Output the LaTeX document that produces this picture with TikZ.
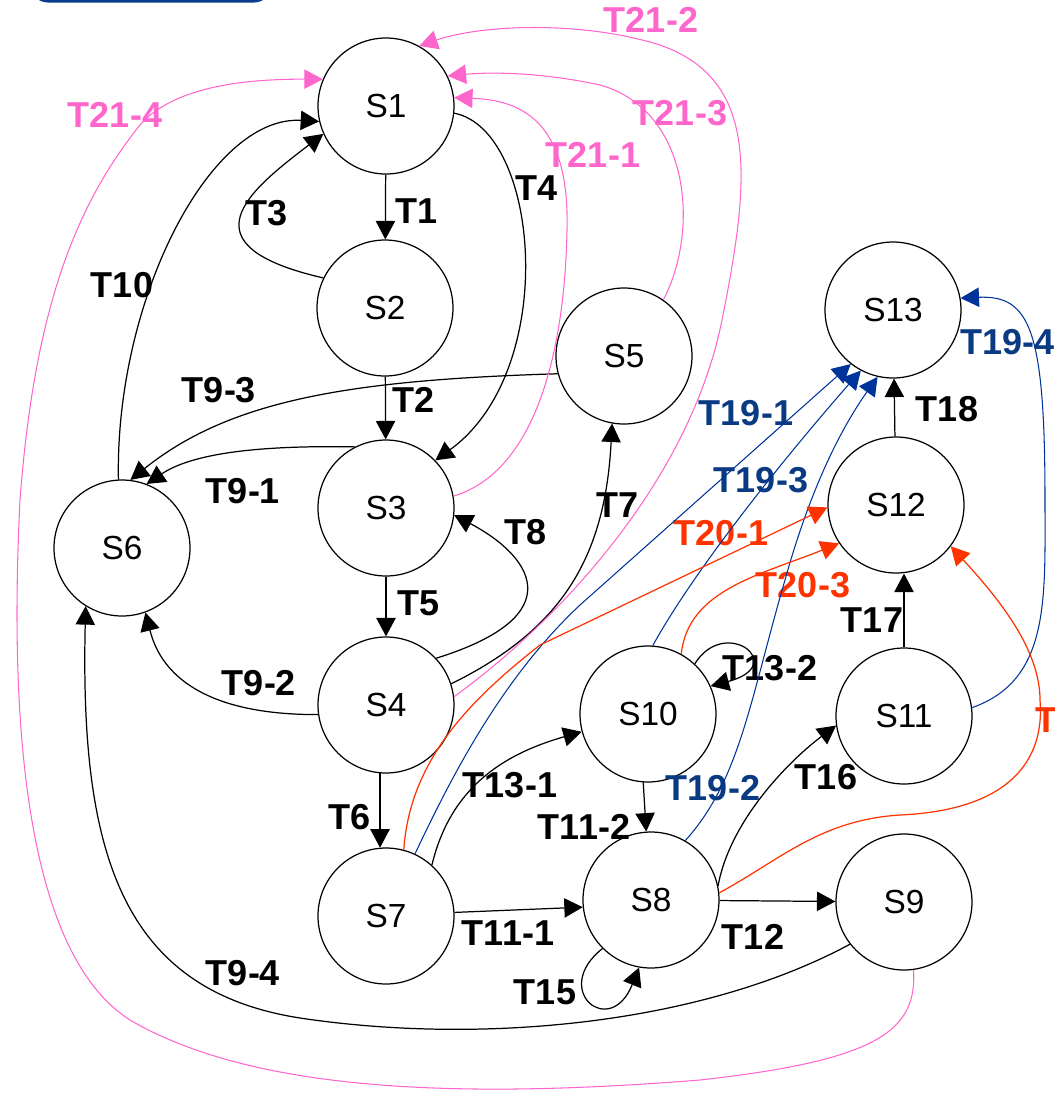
\documentclass[tikz,border=0pt]{standalone}
\usepackage{fontspec}
\setmainfont{Liberation Sans}
\usetikzlibrary{arrows.meta}

\definecolor{tpink}{RGB}{255,102,204}
\definecolor{tred}{RGB}{255,51,0}
\definecolor{tblue}{RGB}{0,51,153}
\definecolor{tbluetxt}{RGB}{10,58,130}
\definecolor{tnavy}{RGB}{10,60,140}

\begin{document}
\begin{tikzpicture}[x=0.02cm, y=0.02cm, >={Triangle[length=10.5pt, width=11pt]}, line width=0.7pt]
				\tikzstyle{stat} = [draw=black, circle, minimum size=2.72cm, inner sep=0pt, font=\fontsize{19}{22}\selectfont]
				\tikzstyle{lab} = [draw=none, inner sep=0pt, font=\bfseries\fontsize{20.5}{24}\selectfont]
				\tikzstyle{plab} = [lab, text=tpink]
				\tikzstyle{blab} = [lab, text=tbluetxt]
				\tikzstyle{rlab} = [lab, text=tred]
				\tikzstyle{pink} = [draw=tpink, line width=0.6pt]
				\tikzstyle{blue} = [draw=tblue, line width=0.6pt]
				\tikzstyle{orng} = [draw=tred, line width=0.7pt]
				
				\useasboundingbox (0, 0) rectangle (1055, -1100);
				\clip (0, 0) rectangle (1055, -1100);
				
				% box cut off at the top
				\draw[tnavy, line width=1.7pt, rounded corners=9] (32, 40) rectangle (270, -1);
				
				% states
				\node[stat] 	at (386, -106) 	(S1) 	{S1};
				\node[stat] 	at (385, -308) 	(S2) 	{S2};
				\node[stat] 	at (386, -508) 	(S3) 	{S3};
				\node[stat] 	at (386, -705) 	(S4) 	{S4};
				\node[stat] 	at (624, -356) 	(S5) 	{S5};
				\node[stat] 	at (122, -548) 	(S6) 	{S6};
				\node[stat] 	at (386, -916) 	(S7) 	{S7};
				\node[stat] 	at (651, -900) 	(S8) 	{S8};
				\node[stat] 	at (904, -902) 	(S9) 	{S9};
				\node[stat] 	at (648, -714) 	(S10) 	{S10};
				\node[stat] 	at (904, -716) 	(S11) 	{S11};
				\node[stat] 	at (896, -505) 	(S12) 	{S12};
				\node[stat] 	at (893, -310) 	(S13) 	{S13};
				
				% labels
				\node[lab]	at (417, -211)	(t1)	{T1};
				\node[lab]	at (414, -400)	(t2)	{T2};
				\node[lab]	at (267, -213)	(t3)	{T3};
				\node[lab]	at (537, -188)	(t4)	{T4};
				\node[lab]	at (419, -603)	(t5)	{T5};
				\node[lab]	at (350, -817)	(t6)	{T6};
				\node[lab]	at (618, -505)	(t7)	{T7};
				\node[lab]	at (526, -532)	(t8)	{T8};
				\node[lab]	at (243, -491)	(t91)	{T9-1};
				\node[lab]	at (259, -683)	(t92)	{T9-2};
				\node[lab]	at (219, -390)	(t93)	{T9-3};
				\node[lab]	at (243, -973)	(t94)	{T9-4};
				\node[lab]	at (122, -285)	(t10)	{T10};
				\node[lab]	at (508, -933)	(t111)	{T11-1};
				\node[lab]	at (584, -827)	(t112)	{T11-2};
				\node[lab]	at (753, -937)	(t12)	{T12};
				\node[lab]	at (510, -785)	(t131)	{T13-1};
				\node[lab]	at (770, -668)	(t132)	{T13-2};
				\node[lab]	at (545, -992)	(t15)	{T15};
				\node[lab]	at (826, -777)	(t16)	{T16};
				\node[lab]	at (872, -620)	(t17)	{T17};
				\node[lab]	at (947, -409)	(t18)	{T18};
				\node[blab]	at (746, -413)	(t191)	{T19-1};
				\node[blab]	at (713, -788)	(t192)	{T19-2};
				\node[blab]	at (761, -480)	(t193)	{T19-3};
				\node[blab, anchor=west]	at (960, -342)	(t194)	{T19-4};
				\node[rlab]	at (721, -533)	(t201)	{T20-1};
				\node[rlab, anchor=west]	at (1035, -720)	(t202)	{T20-2};
				\node[rlab]	at (803, -585)	(t203)	{T20-3};
				\node[plab]	at (593, -155)	(t211)	{T21-1};
				\node[plab]	at (651, -20)	(t212)	{T21-2};
				\node[plab]	at (680, -113)	(t213)	{T21-3};
				\node[plab]	at (115, -115)	(t214)	{T21-4};
				
				% black transitions
				\path[->]
				(S1)	edge	(S2)
				(S2)	edge	(S3)
				(S3)	edge	(S4)
				(S4.265)	edge	(S7.95)
				(S7.3)	edge	(S8.186)
				(S10.266)	edge	(S8.94)
				(S8)	edge	(S9)
				(S11.north)	edge	(S11.north |- S12.south)
				(S12)	edge	(S13);
				\draw[->] (S2.154) .. controls (180, -245) and (250, -190) .. (S1.204);
				\draw[->] (S1.-6) .. controls (540, -130) and (560, -370) .. (S3.44);
				\draw[->] (S4.43) .. controls (575, -615) and (530, -555) .. (S3.-6);
				\draw[->] (S4.18) .. controls (560, -630) and (605, -560) .. (S5.260);
				\draw[->] (S3.117) .. controls (250, -445) and (190, -455) .. (S6.69);
				\draw[->] (S5.195) .. controls (350, -380) and (230, -400) .. (S6.83);
				\draw[->] (S4.188) .. controls (230, -715) and (165, -690) .. (S6.290);
				\draw[->] (S9.218) .. controls (700, -1025) and (480, -1045) .. (300, -1018)
					.. controls (120, -990) and (80, -850) .. (S6.238);
				\draw[->] (S6.93) .. controls (115, -300) and (210, -115) .. (S1.193);
				\draw[->] (S7.48) .. controls (450, -790) and (500, -755) .. (S10.195);
				\draw[->] (S10.47) .. controls (725, -615) and (790, -665) .. (S10.24);
				\draw[->] (S8.225) .. controls (550, -990) and (610, -1040) .. (S8.260);
				\draw[->] (S8.12) .. controls (730, -820) and (790, -760) .. (S11.188);
				
				% T19
				\draw[->, blue] (S7.65) .. controls (450, -780) and (500, -680) .. (580, -605) -- (S13.232);
				\draw[->, blue] (S10.86) .. controls (700, -560) and (800, -440) .. (S13.242);
				\draw[->, blue] (S8.60) .. controls (740, -780) and (750, -700) .. (785, -580)
					.. controls (810, -490) and (840, -430) .. (S13.257);
				\draw[->, blue] (S11.7) .. controls (1050, -680) and (1045, -600) .. (1045, -500)
					.. controls (1045, -330) and (1030, -295) .. (S13.10);
				
				% T20
				\draw[->, orng] (S7.75) .. controls (410, -760) and (470, -700) .. (540, -645) -- (S12.182);
				\draw[->, orng] (S10.61) .. controls (688, -590) and (760, -575) .. (S12.214);
				\draw[->, orng] (S8.6) .. controls (780, -860) and (820, -820) .. (900, -815)
					.. controls (1010, -810) and (1045, -760) .. (1040, -700)
					.. controls (1040, -650) and (1000, -600) .. (S12.323);
				
				% T21
				\draw[->, pink] (S3.10) .. controls (540, -470) and (565, -340) .. (567, -230)
					.. controls (570, -120) and (520, -100) .. (S1.7);
				\draw[->, pink] (S4.7) .. controls (560, -620) and (690, -480) .. (722, -320)
					.. controls (750, -180) and (760, -80) .. (660, -45)
					.. controls (580, -20) and (480, -25) .. (S1.61);
				\draw[->, pink] (S5.55) .. controls (700, -230) and (690, -110) .. (600, -85)
					.. controls (540, -72) and (490, -72) .. (S1.26);
				\draw[->, pink] (S9.278) .. controls (917, -1030) and (880, -1060) .. (700, -1080)
					.. controls (450, -1100) and (250, -1090) .. (130, -1020)
					.. controls (20, -950) and (10, -700) .. (20, -500)
					.. controls (35, -300) and (80, -200) .. (140, -125)
					.. controls (175, -85) and (250, -79) .. (S1.157);
\end{tikzpicture}
\end{document}
